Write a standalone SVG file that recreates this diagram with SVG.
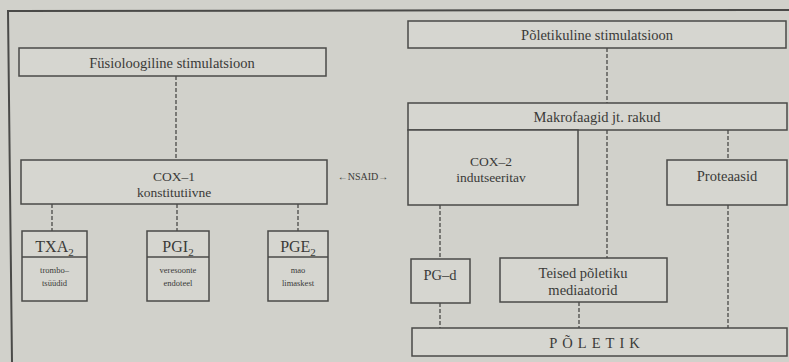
<svg xmlns="http://www.w3.org/2000/svg" width="789" height="362" viewBox="0 0 789 362" font-family="'Liberation Serif', 'DejaVu Serif', serif">
<defs>
<style>
.bg{fill:#d1d1cb}
.box{fill:#d6d6d0;stroke:#4a4a48;stroke-width:1.5}
.frame{fill:none;stroke:#4a4a48;stroke-width:2}
.dash{fill:none;stroke:#4a4a48;stroke-width:1.3;stroke-dasharray:4 2}
.solid{fill:none;stroke:#4a4a48;stroke-width:1.5}
text{font-family:'Liberation Serif', 'DejaVu Serif', serif;fill:#3a3a38;text-anchor:middle}
.t13{font-size:14.5px}
.t13s{font-size:13.5px}
.t15{font-size:16px}
.t8{font-size:8.5px}
.t10{font-size:10px}
</style>
</defs>
<rect class="bg" x="0" y="0" width="789" height="362"/>
<path class="frame" d="M12,362 L8,11 L789,10"/>

<g id="connectors">
<line class="dash" x1="176" y1="76" x2="176" y2="160"/>
<line class="dash" x1="52" y1="204" x2="52" y2="231"/>
<line class="dash" x1="177" y1="204" x2="177" y2="231"/>
<line class="dash" x1="298" y1="204" x2="298" y2="231"/>
<line class="dash" x1="607" y1="48" x2="607" y2="103"/>
<line class="dash" x1="607" y1="130" x2="607" y2="258"/>
<line class="dash" x1="728" y1="130" x2="728" y2="160"/>
<line class="dash" x1="440" y1="205" x2="440" y2="259"/>
<line class="dash" x1="440" y1="303" x2="440" y2="328"/>
<line class="dash" x1="579" y1="302" x2="579" y2="328"/>
<line class="dash" x1="728" y1="205" x2="728" y2="328"/>
</g>

<g id="fysio">
<rect class="box" x="19" y="48" width="307" height="28"/>
<text class="t13" x="172" y="68">Füsioloogiline stimulatsioon</text>
</g>

<g id="cox1">
<rect class="box" x="21" y="160" width="306" height="44"/>
<text class="t13s" x="174" y="181">COX–1</text>
<text class="t13s" x="174" y="197">konstitutiivne</text>
</g>

<g id="nsaid">
<text class="t10" x="363" y="180">←NSAID→</text>
</g>

<g id="txa2">
<rect class="box" x="22" y="231" width="65" height="70"/>
<line class="solid" x1="22" y1="257" x2="87" y2="257"/>
<text class="t15" x="54.5" y="252">TXA<tspan font-size="11" dy="4">2</tspan></text>
<text class="t8" x="54.5" y="273">trombo–</text>
<text class="t8" x="54.5" y="286">tsüüdid</text>
</g>

<g id="pgi2">
<rect class="box" x="147" y="231" width="62" height="70"/>
<line class="solid" x1="147" y1="257" x2="209" y2="257"/>
<text class="t15" x="178" y="252">PGI<tspan font-size="11" dy="4">2</tspan></text>
<text class="t8" x="178" y="273">veresoonte</text>
<text class="t8" x="178" y="286">endoteel</text>
</g>

<g id="pge2">
<rect class="box" x="268" y="231" width="60" height="70"/>
<line class="solid" x1="268" y1="257" x2="328" y2="257"/>
<text class="t15" x="298" y="252">PGE<tspan font-size="11" dy="4">2</tspan></text>
<text class="t8" x="298" y="273">mao</text>
<text class="t8" x="298" y="286">limaskest</text>
</g>

<g id="poletikuline">
<rect class="box" x="408" y="21" width="378" height="27"/>
<text class="t13" x="597" y="40">Põletikuline stimulatsioon</text>
</g>

<g id="makrofaagid">
<rect class="box" x="408" y="103" width="379" height="27"/>
<text class="t13" x="597" y="122">Makrofaagid jt. rakud</text>
</g>

<g id="cox2">
<rect class="box" x="408" y="130" width="170" height="75"/>
<text class="t13s" x="491" y="166">COX–2</text>
<text class="t13s" x="491" y="182">indutseeritav</text>
</g>

<g id="proteaasid">
<rect class="box" x="667" y="160" width="120" height="45"/>
<text class="t13" x="727" y="181">Proteaasid</text>
</g>

<g id="pgd">
<rect class="box" x="411" y="259" width="59" height="44"/>
<text class="t13" x="440" y="280">PG–d</text>
</g>

<g id="teised">
<rect class="box" x="500" y="258" width="167" height="44"/>
<text class="t13" x="583" y="278">Teised põletiku</text>
<text class="t13" x="583" y="295">mediaatorid</text>
</g>

<g id="poletik">
<rect class="box" x="412" y="328" width="375" height="28"/>
<text class="t13" x="597" y="348" letter-spacing="5">PÕLETIK</text>
</g>
</svg>
